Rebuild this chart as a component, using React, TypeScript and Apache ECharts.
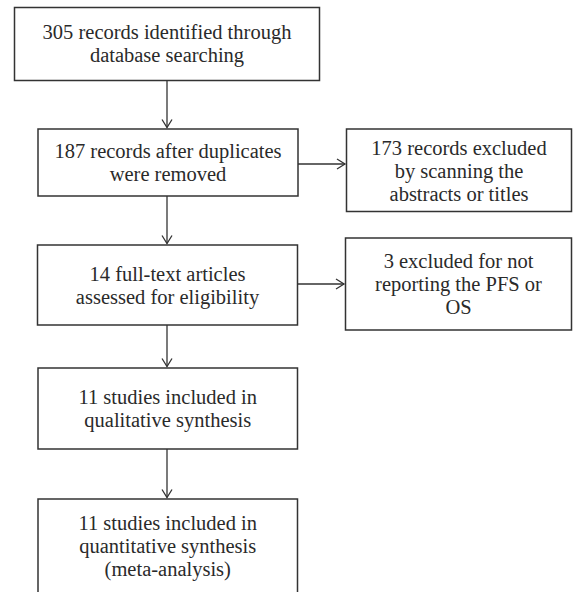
import React, { useEffect, useRef } from "react";
import * as echarts from "echarts";

// Box texts (one entry per line), in reading order
const box1Lines = ["305 records identified through", "database searching"];
const box2Lines = ["187 records after duplicates", "were removed"];
const box3Lines = ["173 records excluded", "by scanning the", "abstracts or titles"];
const box4Lines = ["14 full-text articles", "assessed for eligibility"];
const box5Lines = ["3 excluded for not", "reporting the PFS or", "OS"];
const box6Lines = ["11 studies included in", "qualitative synthesis"];
const box7Lines = ["11 studies included in", "quantitative synthesis", "(meta-analysis)"];

const labels = [box1Lines, box2Lines, box3Lines, box4Lines, box5Lines, box6Lines, box7Lines];

// layout (pixel geometry of the boxes)
const layout = [
  { x: 14.5, y: 7.5, w: 305, h: 73, ty: 43 },
  { x: 38, y: 129, w: 260, h: 67, ty: 162.5 },
  { x: 346.5, y: 129, w: 225, h: 82.5, ty: 170.5 },
  { x: 37.5, y: 245, w: 260, h: 80, ty: 285 },
  { x: 345.5, y: 238, w: 226, h: 92, ty: 284 },
  { x: 38, y: 368, w: 259.5, h: 81, ty: 408.5 },
  { x: 38, y: 499, w: 259.5, h: 110, ty: 546 },
];

const vArrows = [
  [0, 1],
  [1, 3],
  [3, 5],
  [5, 6],
];
const hArrows = [
  [1, 2, 164],
  [3, 4, 284],
];

const STROKE = "#333333";
const TEXT = "#2a2a2a";
const LH = 23;

export default function App() {
  const ref = useRef<HTMLDivElement>(null);
  useEffect(() => {
    if (!ref.current) return;
    const chart = echarts.init(ref.current, undefined, { renderer: "svg" });
    const elements: any[] = [];
    layout.forEach((b, i) => {
      elements.push({
        type: "rect",
        shape: { x: b.x, y: b.y, width: b.w, height: b.h },
        style: { fill: "#ffffff", stroke: STROKE, lineWidth: 1.5 },
      });
      elements.push({
        type: "text",
        style: {
          text: labels[i].join("\n"),
          x: b.x + b.w / 2,
          y: b.ty,
          align: "center",
          verticalAlign: "middle",
          fontFamily: "'Liberation Serif', 'Times New Roman', serif",
          fontSize: 20.5,
          lineHeight: LH,
          fill: TEXT,
        },
      });
    });
    const ah = 8;
    const aw = 5;
    vArrows.forEach(([a, c]) => {
      const A = layout[a];
      const C = layout[c];
      const x = 167;
      const y1 = A.y + A.h;
      const y2 = C.y - 1.5;
      elements.push({
        type: "line",
        shape: { x1: x, y1, x2: x, y2 },
        style: { stroke: STROKE, lineWidth: 1.3 },
      });
      elements.push({
        type: "polyline",
        shape: { points: [[x - aw, y2 - ah], [x, y2], [x + aw, y2 - ah]] },
        style: { stroke: STROKE, lineWidth: 1.3, fill: "none" },
      });
    });
    hArrows.forEach(([a, c, y]) => {
      const A = layout[a];
      const C = layout[c];
      const x1 = A.x + A.w;
      const x2 = C.x - 1.5;
      elements.push({
        type: "line",
        shape: { x1, y1: y, x2, y2: y },
        style: { stroke: STROKE, lineWidth: 1.3 },
      });
      elements.push({
        type: "polyline",
        shape: { points: [[x2 - ah, y - aw], [x2, y], [x2 - ah, y + aw]] },
        style: { stroke: STROKE, lineWidth: 1.3, fill: "none" },
      });
    });
    chart.setOption({
      animation: false,
      backgroundColor: "#ffffff",
      graphic: { elements },
    });
    return () => chart.dispose();
  }, []);
  return (
    <div
      ref={ref}
      style={{ position: "absolute", left: 0, top: 0, width: 579, height: 592 }}
    />
  );
}
